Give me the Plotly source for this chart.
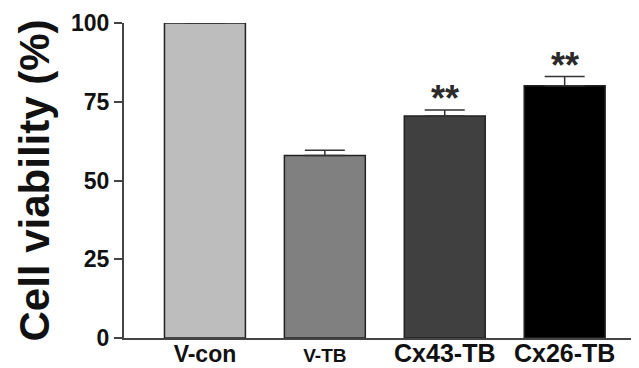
import plotly.graph_objects as go

categories = ["V-con", "V-TB", "Cx43-TB", "Cx26-TB"]
tick_labels = ["V-con",
               "<span style='font-size:19px'>V-TB</span>",
               "<span style='font-size:25px'>Cx43-TB</span>",
               "<span style='font-size:25px'>Cx26-TB</span>"]
values = [100, 57.9, 70.5, 80.1]
errors = [0, 1.7, 1.9, 2.9]
significance = ["", "", "**", "**"]
bar_colors = ["#bdbdbd", "#808080", "#404040", "#000000"]

FONT = "Liberation Sans, Arial, sans-serif"

fig = go.Figure()
fig.add_trace(go.Bar(
    x=list(range(len(categories))),
    y=values,
    marker=dict(color=bar_colors, line=dict(color="#222222", width=1.5)),
    width=0.675,
    error_y=dict(type="data", symmetric=False, array=errors,
                 arrayminus=[0] * len(errors), color="#333333",
                 thickness=1.5, width=20),
    cliponaxis=False,
))

for i, (v, e, s) in enumerate(zip(values, errors, significance)):
    if s:
        fig.add_annotation(x=i, y=v + e + 3.5, text="<b>" + s + "</b>", showarrow=False,
                           yanchor="middle", xanchor="center",
                           font=dict(family=FONT, size=36, color="#2a2a2a"))

# page body has an 8px default margin, so the figure is shifted by (8, 8)
fig.update_layout(
    width=631, height=360,
    margin=dict(l=116, r=0, t=15, b=30),
    plot_bgcolor="white", paper_bgcolor="white",
    showlegend=False,
    font=dict(family=FONT, color="#111111"),
    bargap=0.325,
)
fig.update_xaxes(
    range=[-0.675, 3.62], automargin=False,
    tickmode="array", tickvals=list(range(len(categories))), ticktext=tick_labels,
    tickfont=dict(family=FONT, size=23, color="#111111", weight="bold"),
    showline=True, linecolor="#444444", linewidth=2,
    ticks="", showgrid=False, zeroline=False, ticklabelstandoff=-6,
)
fig.update_yaxes(
    range=[0, 100], automargin=False,
    tickmode="array", tickvals=[0, 25, 50, 75, 100],
    tickfont=dict(family=FONT, size=23, color="#111111", weight="bold"),
    showline=True, linecolor="#444444", linewidth=2,
    ticks="outside", ticklen=8, tickwidth=2, tickcolor="#444444",
    showgrid=False, zeroline=False,
    title=dict(text="Cell viability (%)", standoff=8,
               font=dict(family=FONT, size=42, color="#111111", weight="bold")),
)

fig.write_html("out.html")
